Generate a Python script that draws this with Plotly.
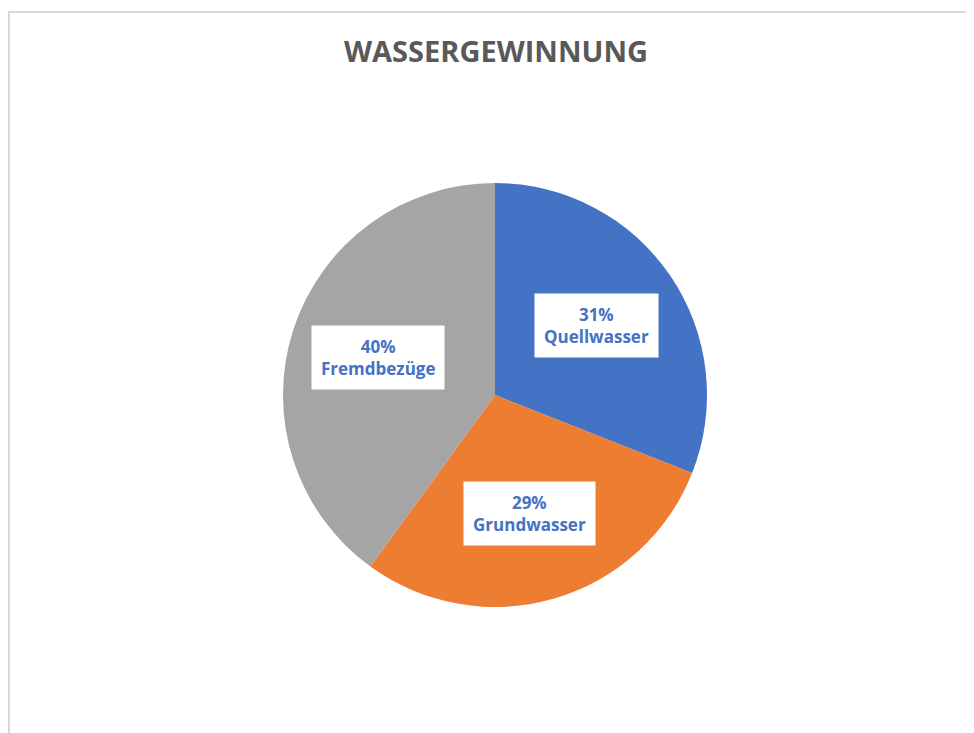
import math
import plotly.graph_objects as go

# ---- data ----
labels = ["Quellwasser", "Grundwasser", "Fremdbezüge"]
values = [31, 29, 40]
colors = ["#4472C4", "#ED7D31", "#A5A5A5"]
title_text = "WASSERGEWINNUNG"

W, H = 974, 733
OFF = 8  # page body margin offset (pixels)
# pie placement (page pixels)
cx, cy, r = 495 - OFF, 395 - OFF, 212

fig = go.Figure()
fig.add_trace(go.Pie(
    labels=labels,
    values=values,
    sort=False,
    direction="clockwise",
    rotation=0,
    marker=dict(colors=colors, line=dict(width=0)),
    textinfo="none",
    hoverinfo="label+percent",
    showlegend=False,
    domain=dict(x=[0, 1], y=[1 - (cy + r) / H, 1 - (cy - r) / H]),
))

# data labels in white boxes, positioned at each slice's mid-angle
total = sum(values)
cum = 0
annotations = []
for lab, v in zip(labels, values):
    mid = (cum + v / 2) / total * 2 * math.pi
    cum += v
    k = 0.58
    xp = cx + r * k * math.sin(mid)
    yp = cy - r * k * math.cos(mid)
    annotations.append(dict(
        x=xp / W, y=1 - yp / H, xref="paper", yref="paper",
        text=f"<b>{round(v / total * 100)}%<br>{lab}</b>",
        showarrow=False, align="center",
        font=dict(family="Open Sans", size=17, color="#4472C4"),
        bgcolor="white", borderpad=9,
        xanchor="center", yanchor="middle",
    ))

fig.update_layout(
    width=W, height=H, autosize=False,
    margin=dict(l=0, r=0, t=0, b=0),
    paper_bgcolor="white",
    title=dict(
        text=f"<b>{title_text}</b>",
        x=(496 - OFF) / W, xanchor="center", y=1 - (52 - OFF) / H, yanchor="middle",
        font=dict(family="Open Sans", size=29, color="#595959"),
    ),
    annotations=annotations,
    shapes=[dict(
        type="rect", xref="paper", yref="paper",
        x0=1 / W, x1=1.02, y0=-0.02, y1=1 - (12 - OFF) / H,
        line=dict(color="#D9D9D9", width=2), layer="below",
    )],
)

fig.write_html("out.html")
